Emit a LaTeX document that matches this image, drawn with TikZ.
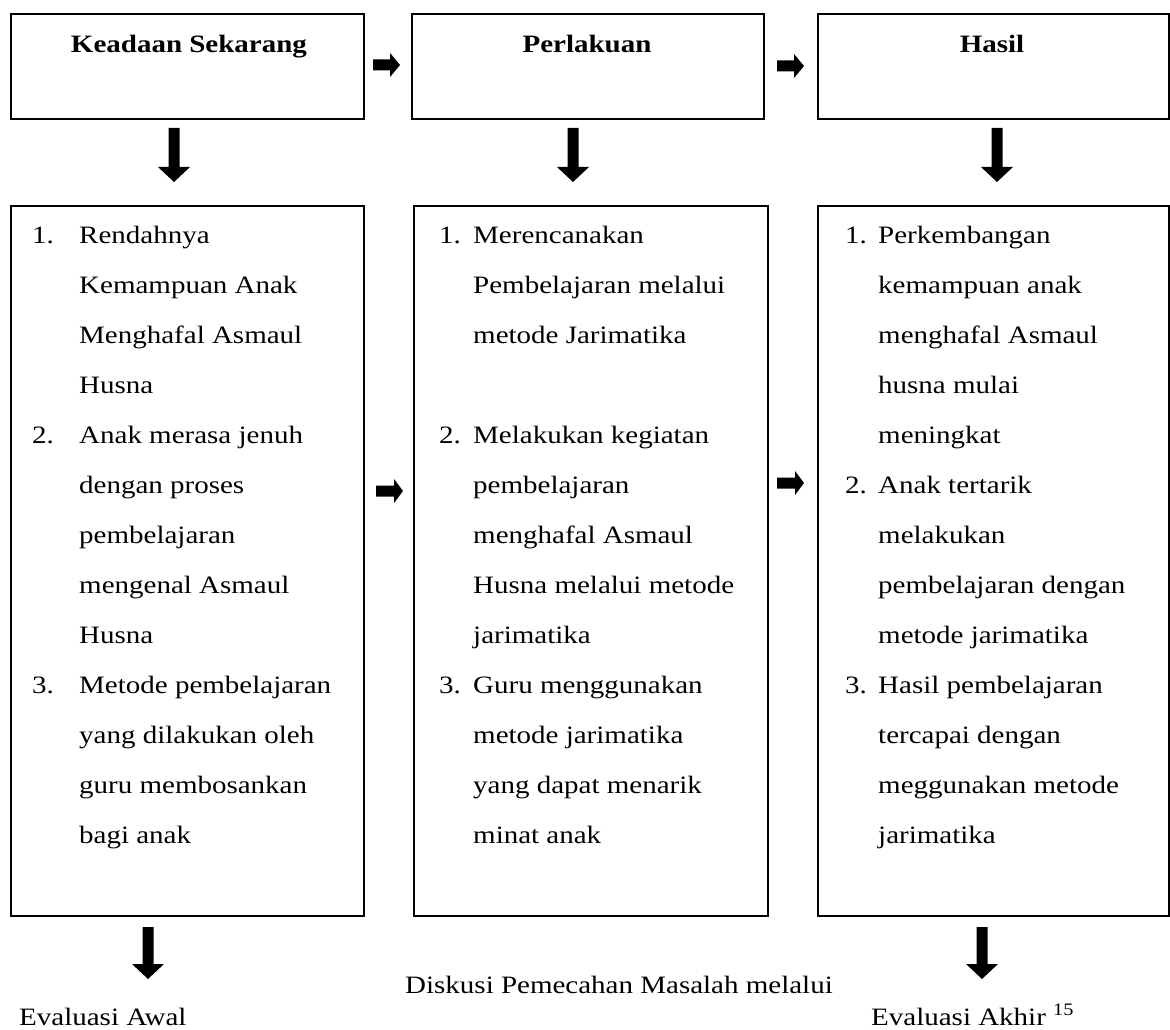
\documentclass[tikz,border=0pt]{standalone}
\usepackage{fontspec}
\setmainfont{Liberation Serif}[FakeStretch=1.16]
\begin{document}
\begin{tikzpicture}[x=1pt,y=-1pt,
  box/.style={draw=black,line width=1.8pt,inner sep=0pt,anchor=north west},
  txt/.style={anchor=base west,inner sep=0pt,font=\fontsize{25}{50}\selectfont},
  ttl/.style={anchor=base,inner sep=0pt,font=\fontsize{25}{50}\selectfont\bfseries},
  blk/.style={fill=black,draw=none}]
\newcommand{\DownBlock}[4]{% x, top, headstart, tip
  \fill[blk] (#1-5.5,#2) -- (#1+5.5,#2) -- (#1+5.5,#3) -- (#1+16,#3) -- (#1,#4) -- (#1-16,#3) -- (#1-5.5,#3) -- cycle;}
\newcommand{\RightBlock}[4]{% left, headstart, tip, y
  \fill[blk] (#1,#4-5.5) -- (#2,#4-5.5) -- (#2,#4-12) -- (#3,#4) -- (#2,#4+12) -- (#2,#4+5.5) -- (#1,#4+5.5) -- cycle;}
\useasboundingbox (0,0) rectangle (1170,1030);
\fill[white] (0,0) rectangle (1170,1030);
% top boxes
\node[box,minimum width=353pt,minimum height=105pt] (t1) at (10,13) {};
\node[box,minimum width=352pt,minimum height=105pt] (t2) at (411,13) {};
\node[box,minimum width=351pt,minimum height=105pt] (t3) at (817,13) {};
\node[ttl] (t1l) at (189,53) {Keadaan Sekarang};
\node[ttl] (t2l) at (587,53) {Perlakuan};
\node[ttl] (t3l) at (992,53) {Hasil};
% lower boxes
\node[box,minimum width=353pt,minimum height=710pt] (b1) at (10,205) {};
\node[box,minimum width=354pt,minimum height=710pt] (b2) at (413,205) {};
\node[box,minimum width=351pt,minimum height=710pt] (b3) at (817,205) {};
% arrows
\RightBlock{373}{390}{400}{65}
\RightBlock{777}{794}{804}{66}
\DownBlock{174}{128}{167}{182}
\DownBlock{573}{128}{167}{182}
\DownBlock{997}{128}{167}{182}
\RightBlock{376}{394}{403}{491}
\RightBlock{777}{795}{804}{483}
\DownBlock{148}{927}{964}{979}
\DownBlock{982}{927}{964}{979}
% box 1 text
\node[txt] (n11) at (32,243) {1.};
\node[txt] (n12) at (32,443) {2.};
\node[txt] (n13) at (32,693) {3.};
\foreach \y/\t [count=\i] in {243/Rendahnya,293/Kemampuan Anak,343/Menghafal Asmaul,393/Husna,
  443/Anak merasa jenuh,493/dengan proses,543/pembelajaran,593/mengenal Asmaul,643/Husna,
  693/Metode pembelajaran,743/yang dilakukan oleh,793/guru membosankan,843/bagi anak}
  \node[txt] (a\i) at (79,\y) {\t};
% box 2 text
\node[txt] (n21) at (439,243) {1.};
\node[txt] (n22) at (439,443) {2.};
\node[txt] (n23) at (439,693) {3.};
\foreach \y/\t [count=\i] in {243/Merencanakan,293/Pembelajaran melalui,343/metode Jarimatika,
  443/Melakukan kegiatan,493/pembelajaran,543/menghafal Asmaul,593/Husna melalui metode,643/jarimatika,
  693/Guru menggunakan,743/metode jarimatika,793/yang dapat menarik,843/minat anak}
  \node[txt] (b\i) at (473,\y) {\t};
% box 3 text
\node[txt] (n31) at (845,243) {1.};
\node[txt] (n32) at (845,493) {2.};
\node[txt] (n33) at (845,693) {3.};
\foreach \y/\t [count=\i] in {243/Perkembangan,293/kemampuan anak,343/menghafal Asmaul,393/husna mulai,
  443/meningkat,493/Anak tertarik,543/melakukan,593/pembelajaran dengan,643/metode jarimatika,
  693/Hasil pembelajaran,743/tercapai dengan,793/meggunakan metode,843/jarimatika}
  \node[txt] (c\i) at (878,\y) {\t};
% bottom texts
\node[txt] (ea) at (19,1025) {Evaluasi Awal};
\node[txt] (dk) at (405,993) {Diskusi Pemecahan Masalah melalui};
\node[txt] (ek) at (871,1025) {Evaluasi Akhir \textsuperscript{15}};
\end{tikzpicture}
\end{document}
